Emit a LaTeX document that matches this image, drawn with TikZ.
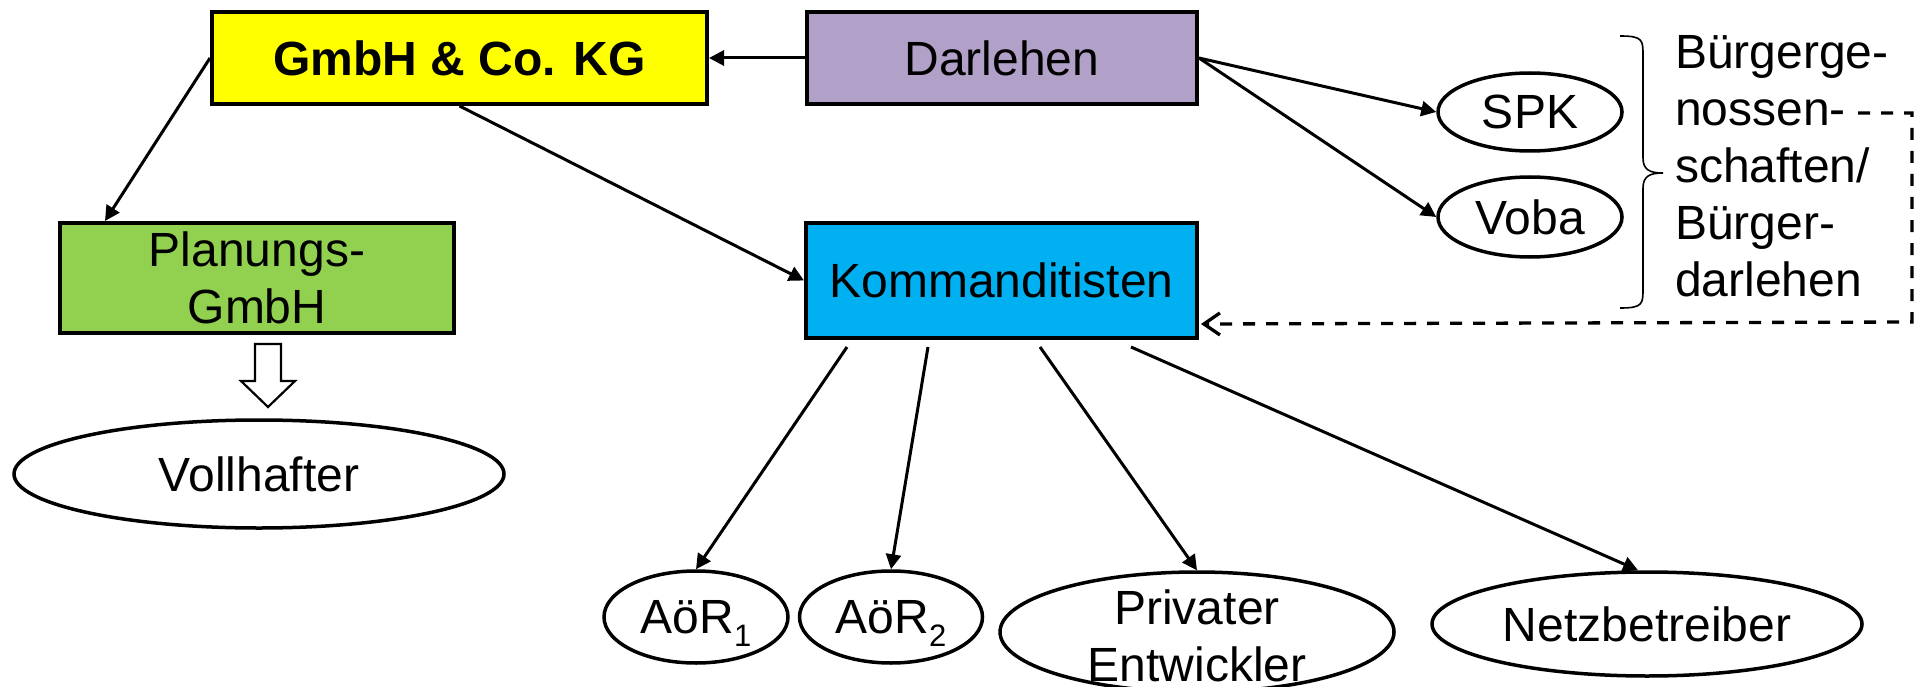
\documentclass[tikz,border=0pt]{standalone}
\usepackage{fontspec}
\setmainfont{Liberation Sans}
\usetikzlibrary{shapes.geometric,arrows.meta,calc}
\definecolor{cyel}{RGB}{255,255,0}
\definecolor{cdarl}{RGB}{177,160,199}
\definecolor{cgreen}{RGB}{146,208,80}
\definecolor{ccyan}{RGB}{0,176,240}
\newcommand{\lowidx}[1]{\raisebox{-13pt}[0pt][0pt]{\fontsize{31}{31}\selectfont #1}}
\begin{document}
\begin{tikzpicture}[x=1pt,y=-1pt,
  every node/.style={font=\fontsize{48}{57}\selectfont, inner sep=0pt},
  box/.style={draw=black, line width=4pt, rectangle, align=center},
  oval/.style={draw=black, line width=3.5pt, ellipse},
  conn/.style={line width=3pt, -{Triangle[length=15pt,width=15pt]}},
  dashconn/.style={line width=3.3pt, dash pattern=on 12pt off 11pt, -{Straight Barb[length=16pt,width=22pt]}},
]
\useasboundingbox (0,0) rectangle (1924,687);
\node[box, fill=cyel, minimum width=495, minimum height=92, font=\fontsize{48}{57}\selectfont\bfseries] (gmbh) at (459.5,58) {GmbH \& Co. KG};
\node[box, fill=cdarl, minimum width=390, minimum height=92] (darl) at (1002,58) {Darlehen};
\node[box, fill=cgreen, minimum width=394, minimum height=110] (plan) at (257,278) {Planungs-\\GmbH};
\node[box, fill=ccyan, minimum width=391, minimum height=115] (komm) at (1001.5,280.5) {Kommanditisten};
\node[oval, minimum width=184, minimum height=78] (spk) at (1530,112) {SPK};
\node[oval, minimum width=184, minimum height=80] (voba) at (1530,217) {Voba};
\node[oval, minimum width=490, minimum height=108] (voll) at (259,474) {Vollhafter};
\node[oval, minimum width=184, minimum height=92] (a1) at (696,617) {AöR\lowidx{1}};
\node[oval, minimum width=183, minimum height=92] (a2) at (891,617) {AöR\lowidx{2}};
\node[oval, minimum width=394, minimum height=120, label={[align=center, yshift=-4pt]center:Privater\\Entwickler}] (priv) at (1197,632) {};
\node[oval, minimum width=430, minimum height=104] (netz) at (1647,624) {Netzbetreiber};
\node[anchor=north west, align=left] (buerger) at (1675,35) {Bürgerge-\\nossen-\\schaften/\\Bürger-\\darlehen};
% brace
\draw[line width=1.6pt] (1620,36) .. controls (1643,36) and (1643,40) .. (1643,56) -- (1643,158) .. controls (1643,170) and (1650,173) .. (1663,173) .. controls (1650,173) and (1643,176) .. (1643,188) -- (1643,288) .. controls (1643,304) and (1643,308) .. (1620,308);
% hollow arrow
\draw[line width=2.2pt, fill=white] (255,344) -- (281,344) -- (281,381) -- (295,381) -- (268,407) -- (241,381) -- (255,381) -- cycle;
% connectors
\draw[conn] (darl.west) -- (gmbh.east);
\draw[conn] (gmbh.west) -- ($(plan.north west)+(47,0)$);
\draw[conn] (gmbh.south) -- (komm.west);
\draw[conn] (darl.east) -- (spk.west);
\draw[conn] (darl.east) -- (voba.west);
\draw[conn] ($(komm.south west)+(43,7)$) -- (a1.north);
\draw[conn] ($(komm.south west)+(124,7)$) -- (a2.north);
\draw[conn] ($(komm.south west)+(236,7)$) -- (priv.north);
\draw[conn] ($(komm.south west)+(327,7)$) -- ($(netz.north)+(-9,0)$);
\coordinate (dstart) at (1858,113);
\coordinate (dc1) at (1912,113);
\coordinate (dc2) at (1912,322);
\draw[dashconn] (dstart) -- (dc1) -- (dc2) -- ($(komm.south east)+(2,-16)$);
\end{tikzpicture}
\end{document}
